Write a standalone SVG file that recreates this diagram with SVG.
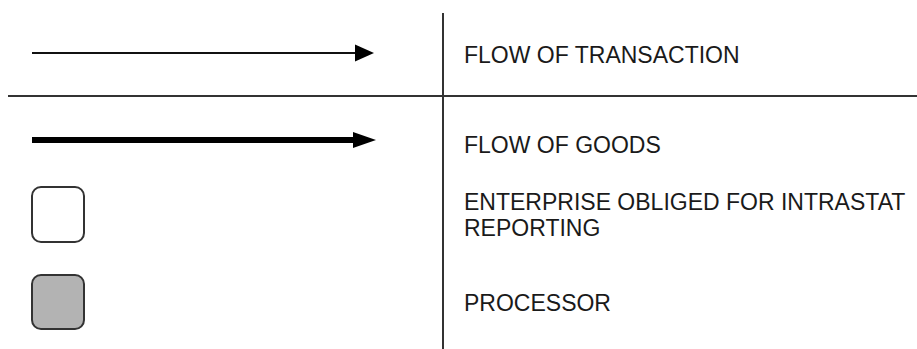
<svg xmlns="http://www.w3.org/2000/svg" width="917" height="349" viewBox="0 0 917 349">
<style>
.sep{stroke:#333;stroke-width:2;fill:none}
.lbl{font-family:"Liberation Sans",Arial,sans-serif;font-size:23px;fill:#1a1a1a}
.box{stroke:#333;stroke-width:2}
.head{fill:#000}
</style>
<rect width="917" height="349" fill="#fff"/>
<g id="grid">
<line class="sep" x1="443" y1="13" x2="443" y2="349"/>
<line class="sep" x1="8" y1="96" x2="917" y2="96"/>
</g>
<g id="connectors">
<g id="arrow-transaction">
<line x1="32" y1="53" x2="357" y2="53" stroke="#111" stroke-width="2"/>
<polygon class="head" points="355,44.5 374,53 355,61.5"/>
</g>
<g id="arrow-goods">
<line x1="32" y1="140" x2="355" y2="140" stroke="#000" stroke-width="6"/>
<polygon class="head" points="353,132 376,140 353,148"/>
</g>
</g>
<g id="node-enterprise">
<rect class="box" x="32" y="187" width="52" height="55" rx="9" fill="#fff"/>
</g>
<g id="node-processor">
<rect class="box" x="32" y="275" width="52" height="54" rx="9" fill="#b3b3b3"/>
</g>
<g id="labels">
<text class="lbl" x="464" y="63">FLOW OF TRANSACTION</text>
<text class="lbl" x="464" y="153">FLOW OF GOODS</text>
<text class="lbl" x="464" y="210">ENTERPRISE OBLIGED FOR INTRASTAT</text>
<text class="lbl" x="464" y="236">REPORTING</text>
<text class="lbl" x="464" y="311">PROCESSOR</text>
</g>
</svg>
